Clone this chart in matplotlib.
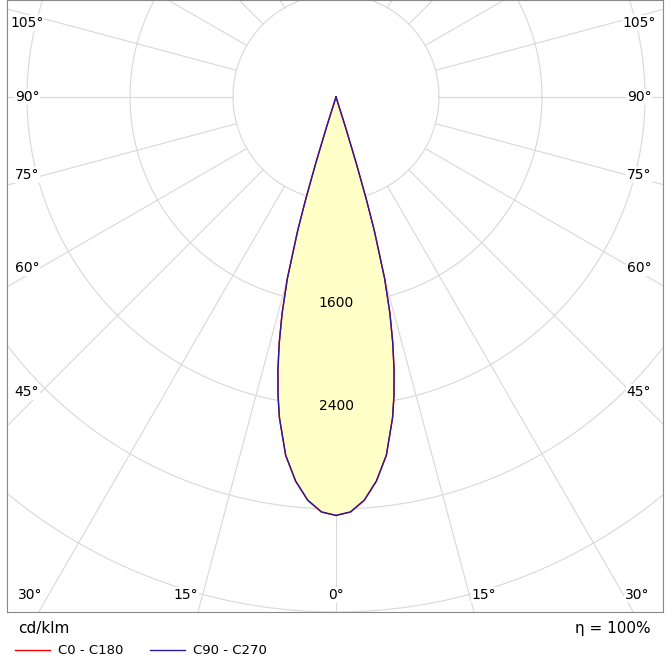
import numpy as np
import matplotlib
matplotlib.use("Agg")
import matplotlib.pyplot as plt

gamma = [0, 2, 4, 6, 8, 10, 11, 12, 13, 14, 15, 16, 16.5, 17, 17.5, 18]
c0_c180 = [3250, 3225, 3140, 3000, 2810, 2530, 2360, 2170, 1960, 1730, 1460, 1080, 830, 540, 240, 0]
c90_c270 = [3250, 3225, 3140, 3000, 2810, 2530, 2360, 2170, 1960, 1730, 1460, 1080, 830, 540, 240, 0]
ring_labels = [1600, 2400]
bottom_labels = ["30°", "15°", "0°", "15°", "30°"]
side_labels = ["45°", "60°", "75°", "90°", "105°"]

S = 103 / 800.0
fig = plt.figure(figsize=(6.70, 6.65), dpi=100)
W, H = 670, 665
ax = fig.add_axes([7 / W, 1 - 612 / H, 656 / W, 612 / H])
L, R, B, T = -329, 327, -515, 97
ax.set_xlim(L, R); ax.set_ylim(B, T)
ax.set_xticks([]); ax.set_yticks([])
for s in ax.spines.values():
    s.set_color('#888888')

gc = '#d8d8d8'
t = np.linspace(0, 2 * np.pi, 400)
for k in range(1, 8):
    r = 103 * k
    ax.plot(r * np.cos(t), r * np.sin(t), color=gc, lw=0.8, zorder=1)
for a in range(0, 360, 15):
    th = np.radians(a)
    dx, dy = np.sin(th), -np.cos(th)
    ax.plot([103 * dx, 900 * dx], [103 * dy, 900 * dy], color=gc, lw=0.8, zorder=1)

g = np.radians(np.array(gamma))
def pts(I):
    I = np.array(I) * S
    gg = np.concatenate([-g[::-1], g[1:]])
    II = np.concatenate([I[::-1], I[1:]])
    return II * np.sin(gg), -II * np.cos(gg)
x1, y1 = pts(c0_c180)
x2, y2 = pts(c90_c270)
ax.fill(x1, y1, color='#ffffc8', zorder=2)
ax.plot(x1, y1, color='red', lw=1, zorder=3)
ax.plot(x2, y2, color='#2a1a9a', lw=1, zorder=4)

for v in ring_labels:
    ax.text(0, -v * S, str(v), ha='center', va='center', fontsize=10, zorder=5)

lab_kw = dict(ha='center', va='center', fontsize=10, zorder=5,
              bbox=dict(fc='white', ec='none', pad=0.5))
bx = [30, 186, 336, 484, 637]
for lab, px in zip(bottom_labels, bx):
    ax.text(px - 336, 97 - 595, lab, **lab_kw)
sy = [392, 268, 175, 97, 23]
for lab, py in zip(side_labels, sy):
    ax.text(27 - 336, 97 - py, lab, **lab_kw)
    ax.text(639 - 336, 97 - py, lab, **lab_kw)

fig.text(18 / W, 1 - 629 / H, "cd/klm", fontsize=11, va='center')
fig.text(651 / W, 1 - 629 / H, "η = 100%", fontsize=11, va='center', ha='right')
fig.add_artist(plt.Line2D([15 / W, 50 / W], [1 - 650 / H] * 2, color='red', lw=1))
fig.text(58 / W, 1 - 650 / H, "C0 - C180", fontsize=9.5, va='center')
fig.add_artist(plt.Line2D([150 / W, 185 / W], [1 - 650 / H] * 2, color='#2a1a9a', lw=1))
fig.text(193 / W, 1 - 650 / H, "C90 - C270", fontsize=9.5, va='center')
fig.savefig("out.png", dpi=100)
